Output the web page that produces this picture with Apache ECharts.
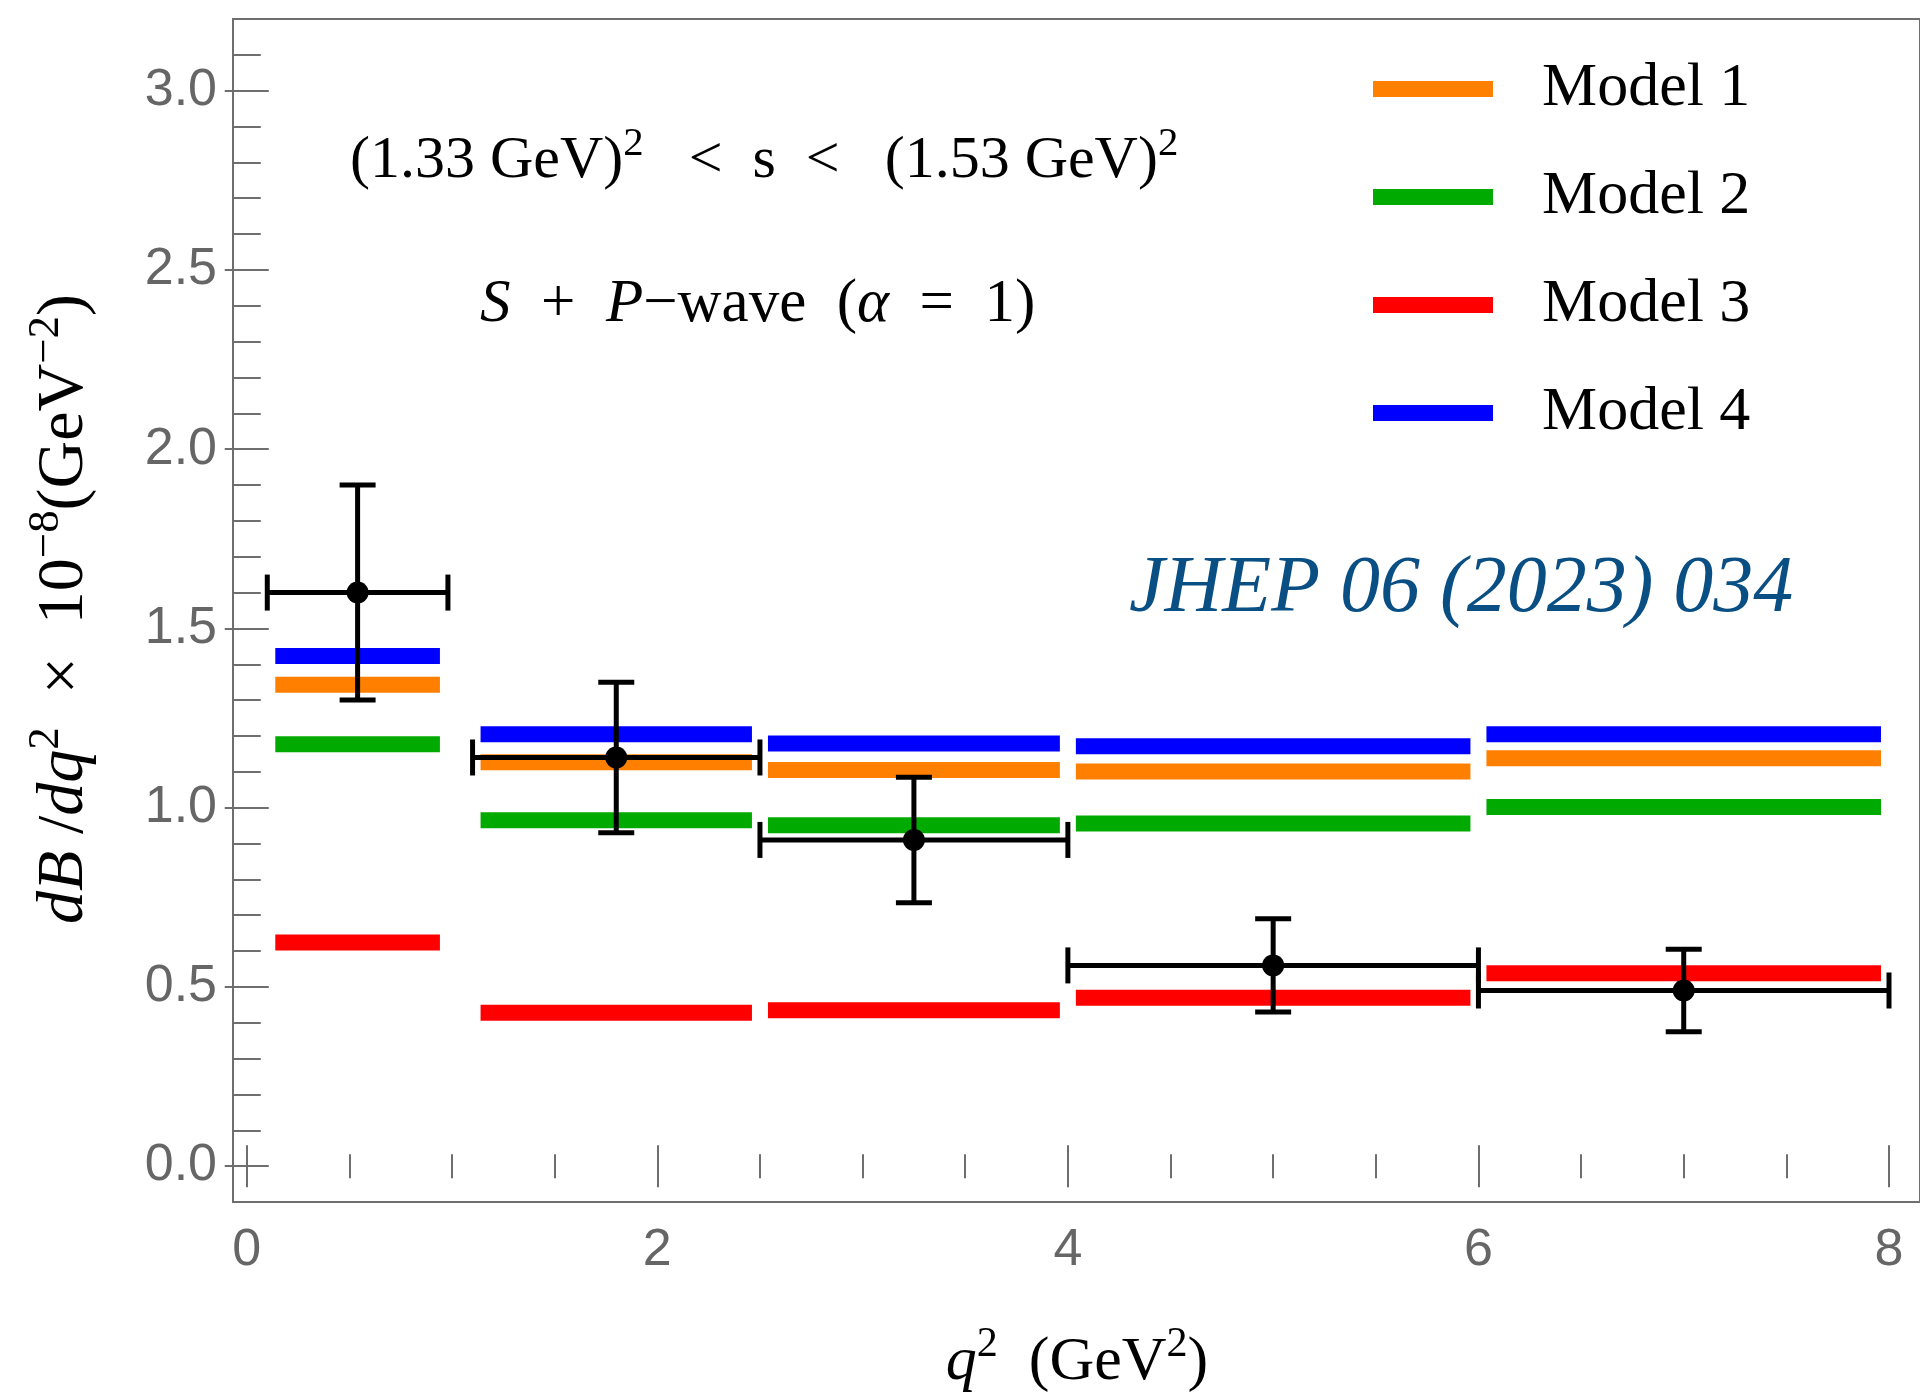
<!DOCTYPE html>
<html><head><meta charset="utf-8">
<script src="https://cdn.jsdelivr.net/npm/echarts@6/dist/echarts.min.js"></script>
<style>html,body{margin:0;padding:0;background:#fff}#c{width:1920px;height:1395px}</style>
</head><body><div id="c"></div>
<script>
// ---- data ----
const binLo = [0.1, 1.1, 2.5, 4.0, 6.0];
const binHi = [0.98, 2.5, 4.0, 6.0, 8.0];
const dataX = [0.54, 1.8, 3.25, 5.0, 7.0];
const dataY = [1.60, 1.14, 0.91, 0.56, 0.49];
const dataErr = [0.30, 0.21, 0.175, 0.13, 0.115];
const modelNames = ['Model 1', 'Model 2', 'Model 3', 'Model 4'];
const model1 = [1.343, 1.127, 1.105, 1.101, 1.138];
const model2 = [1.177, 0.965, 0.951, 0.956, 1.002];
const model3 = [0.624, 0.428, 0.435, 0.470, 0.538];
const model4 = [1.423, 1.205, 1.179, 1.171, 1.205];
const modelColors = ['#FF7F00', '#00AA00', '#FF0000', '#0000FF'];
const xMajorTicks = [0, 2, 4, 6, 8];
const xMinorTicks = [0.5, 1, 1.5, 2.5, 3, 3.5, 4.5, 5, 5.5, 6.5, 7, 7.5];
const yMajorTicks = [0, 0.5, 1, 1.5, 2, 2.5, 3];
const yMinorTicks = [0.1, 0.2, 0.3, 0.4, 0.6, 0.7, 0.8, 0.9, 1.1, 1.2, 1.3, 1.4, 1.6, 1.7, 1.8, 1.9,
                     2.1, 2.2, 2.3, 2.4, 2.6, 2.7, 2.8, 2.9, 3.1];

const SERIF = '"Liberation Serif", "Times New Roman", serif';
const SANS = '"Liberation Sans", Arial, sans-serif';
const AX = '#6e6e6e';
const XMIN = -0.067, XMAX = 8.151, YMIN = -0.1, YMAX = 3.2;

function richStyles(fs) {
  return {
    n: {fontFamily: SERIF, fontSize: fs, lineHeight: fs * 1.25, color: '#000'},
    i: {fontFamily: SERIF, fontStyle: 'italic', fontSize: fs, lineHeight: fs * 1.25, color: '#000'},
    s: {fontFamily: SERIF, fontSize: fs * 0.68, lineHeight: fs * 0.68, verticalAlign: 'top', color: '#000'}
  };
}

function xAx(pos, ticks, len, labels) {
  return {
    type: 'value', position: pos, min: XMIN, max: XMAX,
    axisLine: {show: false}, splitLine: {show: false},
    axisTick: {show: true, inside: true, length: len, customValues: ticks, lineStyle: {color: AX, width: 2}},
    axisLabel: labels ? {show: true, customValues: ticks, margin: 23, fontSize: 52, fontFamily: SANS, color: '#666',
      formatter: v => String(Math.round(v))} : {show: false}
  };
}
function yAx(pos, ticks, len, labels) {
  return {
    type: 'value', position: pos, min: YMIN, max: YMAX,
    axisLine: {show: false}, splitLine: {show: false},
    axisTick: {show: true, inside: true, length: len, customValues: ticks, lineStyle: {color: AX, width: 2}},
    axisLabel: labels ? {show: true, customValues: ticks, margin: 16, fontSize: 52, fontFamily: SANS, color: '#666',
      formatter: v => v.toFixed(1)} : {show: false}
  };
}

function modelSeries(name, vals, color) {
  return {
    type: 'custom', name: name, xAxisIndex: 0, yAxisIndex: 0, z: 2,
    itemStyle: {color: color},
    data: vals.map((v, i) => [binLo[i], binHi[i], v]),
    encode: {x: [0, 1], y: 2},
    renderItem: function (params, api) {
      const a = api.coord([api.value(0), api.value(2)]);
      const b = api.coord([api.value(1), api.value(2)]);
      const inset = 8, h = 16;
      return {type: 'rect', shape: {x: a[0] + inset, y: a[1] - h / 2, width: b[0] - a[0] - 2 * inset, height: h},
        style: {fill: color}};
    }
  };
}

const dataSeries = {
  type: 'custom', name: 'Data', xAxisIndex: 0, yAxisIndex: 0, z: 5,
  data: dataX.map((x, i) => [x, dataY[i], binLo[i], binHi[i], dataErr[i]]),
  encode: {x: [0, 2, 3], y: 1},
  renderItem: function (params, api) {
    const x = api.value(0), y = api.value(1), lo = api.value(2), hi = api.value(3), e = api.value(4);
    const c = api.coord([x, y]), l = api.coord([lo, y]), r = api.coord([hi, y]);
    const t = api.coord([x, y + e]), b = api.coord([x, y - e]);
    const cap = 18;
    const st = {stroke: '#000', lineWidth: 5};
    const ln = (x1, y1, x2, y2) => ({type: 'line', shape: {x1, y1, x2, y2}, style: st});
    return {type: 'group', children: [
      ln(l[0], l[1], r[0], r[1]),
      ln(l[0], l[1] - cap, l[0], l[1] + cap),
      ln(r[0], r[1] - cap, r[0], r[1] + cap),
      ln(t[0], t[1], b[0], b[1]),
      ln(t[0] - cap, t[1], t[0] + cap, t[1]),
      ln(b[0] - cap, b[1], b[0] + cap, b[1]),
      {type: 'circle', shape: {cx: c[0], cy: c[1], r: 11}, style: {fill: '#000'}}
    ]};
  }
};

const chart = echarts.init(document.getElementById('c'), null, {renderer: 'canvas'});
chart.setOption({
  animation: false,
  backgroundColor: '#fff',
  grid: {left: 233, top: 19, width: 1688, height: 1183, show: true, borderColor: AX, borderWidth: 2,
    backgroundColor: 'transparent'},
  xAxis: [
    xAx('bottom', xMajorTicks, 21, true),
    xAx('bottom', xMinorTicks, 12, false),
    xAx('top', xMajorTicks, 21, false),
    xAx('top', xMinorTicks, 12, false)
  ],
  yAxis: [
    yAx('left', yMajorTicks, 22, true),
    yAx('left', yMinorTicks, 14, false),
    yAx('right', yMajorTicks, 22, false),
    yAx('right', yMinorTicks, 14, false)
  ],
  legend: {
    orient: 'vertical', left: 1368, top: 53, itemWidth: 120, itemHeight: 16, itemGap: 46,
    selectedMode: false,
    data: modelNames.map(n => ({name: n, icon: 'rect'})),
    textStyle: {fontFamily: SERIF, fontSize: 62, color: '#000', padding: [0, 0, 18, 44]}
  },
  series: [
    modelSeries(modelNames[0], model1, modelColors[0]),
    modelSeries(modelNames[1], model2, modelColors[1]),
    modelSeries(modelNames[2], model3, modelColors[2]),
    modelSeries(modelNames[3], model4, modelColors[3]),
    dataSeries
  ],
  graphic: [
    {type: 'text', left: 350, top: 124, z: 10,
      style: {text: '{n|(1.33 GeV)}{s|2}{n|   <  s  <   (1.53 GeV)}{s|2}', rich: richStyles(60)}},
    {type: 'text', left: 480, top: 274, z: 10,
      style: {text: '{i|S}{n|  +  }{i|P}{n|−wave  (}{i|α}{n|  =  1)}', rich: richStyles(61)}},
    {type: 'text', left: 1129, top: 550, z: 10,
      style: {text: 'JHEP 06 (2023) 034', fontFamily: SERIF, fontStyle: 'italic', fontSize: 80, fill: '#0a4f84'}},
    {type: 'text', x: 65, y: 609, rotation: Math.PI / 2, z: 10,
      style: {text: '{i|dB}{n| /}{i|dq}{s|2}{n|  ×  10}{s|−8}{n|(GeV}{s|−2}{n|)}', rich: richStyles(66),
        align: 'center', verticalAlign: 'middle'}},
    {type: 'text', x: 1077, y: 1363, z: 10,
      style: {text: '{i|q}{s|2}{n|  (GeV}{s|2}{n|)}', rich: richStyles(62), align: 'center', verticalAlign: 'middle'}}
  ]
});
</script></body></html>
